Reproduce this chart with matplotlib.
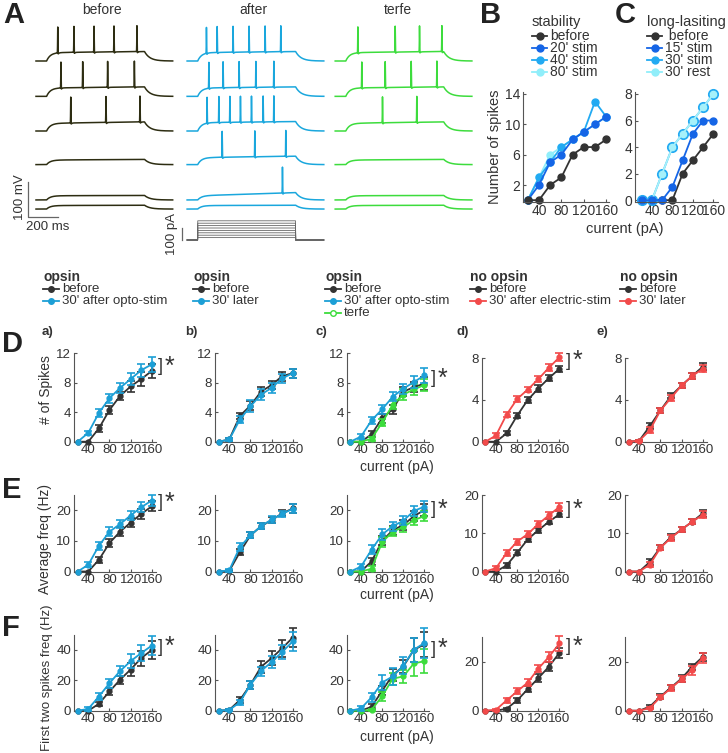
import numpy as np
import matplotlib
matplotlib.use("Agg")
import matplotlib.pyplot as plt
from matplotlib.transforms import blended_transform_factory

plt.rcParams["font.family"] = ["Liberation Sans", "DejaVu Sans"]
plt.rcParams["text.color"] = "#333333"
plt.rcParams["axes.labelcolor"] = "#333333"

# ---------------- panel A: example sweeps (spike times in ms, top sweep first)
STEP_ON, STEP_OFF = 70, 718
spikes_before = [[144, 251, 384, 516, 668], [165, 309, 474, 651], [230, 463, 688], [], [], []]
spikes_after = [[128, 199, 304, 410, 516, 620], [144, 238, 344, 455, 574],
                [132, 210, 283, 353, 426, 503, 574], [232, 448, 653], [631], []]
spikes_terfe = [[150, 397, 558, 706], [176, 331, 503, 673], [313, 540], [], [], []]
depol_before = [24, 24, 22, 13, 12, 10]
depol_after = [24, 24, 24, 20, 12, 10]
depol_terfe = [24, 24, 22, 13, 12, 10]
ramp_before = [3, 3, 4, 2, 1, 1]
ramp_after = [3, 3, 3, 4, 9, 1]
ramp_terfe = [3, 3, 4, 2, 1, 1]
sweep_offset = [0, -101, -200, -296, -397, -423]
step_currents = [20, 40, 60, 80, 100, 120, 140, 160]

# ---------------- panels B, C
current = [20, 40, 60, 80, 100, 120, 140, 160]
stab_before = [0, 0, 2, 3, 6, 7, 7, 8]
stab_20 = [0, 2, 5, 6, 8, 9, 10, 11]
stab_40 = [0, 3, 5, 7, 8, 9, 13, 11]
stab_80 = [0, 3, 6, 7, 8, 9, 10, 11]
long_before = [0, 0, 0, 0, 2, 3, 4, 5]
long_15 = [0, 0, 0, 1, 3, 5, 6, 6]
long_30stim = [0, 0, 2, 4, 5, 6, 7, 8]
long_30rest = [0, 0, 2, 4, 5, 6, 7, 8]

# ---------------- panel D: # of spikes (mean, sem)
spk_a_before = [0, 0, 1.8, 4.3, 6.2, 7.5, 8.5, 9.6]
spk_a_before_sem = [0, 0, 0.5, 0.6, 0.6, 0.8, 0.9, 1.0]
spk_a_after = [0, 1.2, 3.9, 5.9, 7.3, 8.5, 9.7, 10.5]
spk_a_after_sem = [0, 0.3, 0.5, 0.6, 0.7, 0.8, 0.9, 1.0]
spk_b_before = [0, 0.3, 3.5, 4.9, 6.8, 7.7, 8.9, 9.3]
spk_b_before_sem = [0, 0.2, 0.4, 0.6, 0.6, 0.6, 0.6, 0.6]
spk_b_later = [0, 0.3, 3.0, 4.8, 6.4, 7.3, 8.6, 9.3]
spk_b_later_sem = [0, 0.2, 0.5, 0.8, 0.7, 0.7, 0.6, 0.6]
spk_c_before = [0, 0, 1.0, 3.2, 4.4, 6.8, 7.4, 7.9]
spk_c_before_sem = [0, 0, 0.4, 0.6, 0.6, 0.6, 0.7, 0.9]
spk_c_after = [0, 0.7, 2.9, 4.4, 6.1, 7.2, 8.1, 9.0]
spk_c_after_sem = [0, 0.4, 0.5, 0.6, 0.6, 0.7, 0.8, 1.0]
spk_c_terfe = [0, 0, 0.4, 2.6, 5.0, 6.4, 7.1, 7.7]
spk_c_terfe_sem = [0, 0, 0.3, 0.5, 0.6, 0.7, 0.8, 0.8]
spk_d_before = [0, 0, 0.8, 2.5, 4.0, 5.1, 6.1, 7.0]
spk_d_before_sem = [0, 0, 0.2, 0.25, 0.25, 0.3, 0.3, 0.3]
spk_d_after = [0, 0.6, 2.6, 4.1, 5.0, 6.0, 7.1, 8.1]
spk_d_after_sem = [0, 0.2, 0.25, 0.25, 0.25, 0.3, 0.35, 0.4]
spk_e_before = [0, 0.1, 1.5, 3.0, 4.4, 5.4, 6.3, 7.2]
spk_e_before_sem = [0, 0.1, 0.3, 0.25, 0.25, 0.25, 0.3, 0.35]
spk_e_later = [0, 0.1, 1.1, 3.0, 4.2, 5.4, 6.3, 7.0]
spk_e_later_sem = [0, 0.1, 0.3, 0.25, 0.25, 0.25, 0.3, 0.35]

# ---------------- panel E: average frequency (Hz)
frq_a_before = [0, 0, 3.8, 9.3, 13.0, 16.0, 18.8, 21.3]
frq_a_before_sem = [0, 0, 1.0, 1.4, 1.4, 1.4, 1.5, 1.6]
frq_a_after = [0, 2.2, 8.4, 13.0, 15.5, 18.3, 21.0, 23.2]
frq_a_after_sem = [0, 0.8, 1.3, 1.4, 1.4, 1.4, 1.6, 1.8]
frq_b_before = [0, 0.2, 6.3, 11.8, 14.8, 16.8, 19.0, 20.6]
frq_b_before_sem = [0, 0.3, 1.0, 1.0, 1.0, 1.0, 1.0, 1.5]
frq_b_later = [0, 0.4, 8.0, 11.8, 14.8, 17.0, 18.8, 20.5]
frq_b_later_sem = [0, 0.4, 1.3, 1.0, 1.0, 1.0, 1.0, 1.5]
frq_c_before = [0, 0, 3.3, 10.0, 13.5, 15.2, 18.1, 20.1]
frq_c_before_sem = [0, 0, 1.2, 1.5, 1.5, 1.5, 1.6, 1.8]
frq_c_after = [0, 1.6, 7.1, 12.1, 14.8, 16.6, 19.8, 21.2]
frq_c_after_sem = [0, 0.8, 1.5, 1.7, 1.5, 1.5, 1.5, 1.8]
frq_c_terfe = [0, 0, 0.9, 9.6, 13.0, 14.5, 16.8, 18.1]
frq_c_terfe_sem = [0, 0, 0.8, 1.6, 1.5, 1.5, 1.5, 1.7]
frq_d_before = [0, 0, 1.6, 4.9, 8.4, 10.8, 13.0, 15.0]
frq_d_before_sem = [0, 0, 0.6, 0.7, 0.7, 0.7, 0.7, 0.8]
frq_d_after = [0, 0.9, 4.8, 7.8, 9.8, 12.4, 14.7, 16.9]
frq_d_after_sem = [0, 0.5, 0.8, 0.8, 0.8, 0.8, 0.9, 1.0]
frq_e_before = [0, 0, 2.5, 6.3, 9.0, 11.0, 13.0, 15.2]
frq_e_before_sem = [0, 0, 0.8, 0.7, 0.7, 0.7, 0.7, 0.9]
frq_e_later = [0, 0, 1.8, 6.2, 8.8, 11.0, 13.0, 14.8]
frq_e_later_sem = [0, 0, 0.7, 0.7, 0.7, 0.7, 0.7, 0.9]

# ---------------- panel F: first two spikes frequency (Hz)
ft_a_before = [0, 0, 4.5, 12.6, 20.3, 27.0, 34.5, 39.8]
ft_a_before_sem = [0, 0, 1.5, 2.5, 2.5, 4, 5, 6]
ft_a_after = [0, 1.2, 9.3, 18.0, 26.0, 32.5, 37.8, 42.7]
ft_a_after_sem = [0, 1.5, 2.5, 3, 3.5, 4.5, 5, 6]
ft_b_before = [0, 0.5, 7.0, 17.0, 28.8, 34.5, 41.0, 48.0]
ft_b_before_sem = [0, 0.6, 2, 2.5, 4, 4.5, 5.5, 6.5]
ft_b_later = [0, 0.5, 5.5, 17.0, 26.0, 32.0, 38.5, 45.5]
ft_b_later_sem = [0, 0.6, 1.5, 2.5, 3, 4, 4.5, 6]
ft_c_before = [0, 0, 2.6, 13.0, 23.5, 29.0, 40.0, 43.5]
ft_c_before_sem = [0, 0, 1.5, 3, 4, 4.5, 8, 8]
ft_c_after = [0, 1.5, 8.8, 18.5, 22.5, 29.5, 40.0, 44.5]
ft_c_after_sem = [0, 1.5, 3, 5, 5.5, 5.5, 8, 10]
ft_c_terfe = [0, 0, 0.5, 9.5, 21.0, 22.5, 31.0, 32.5]
ft_c_terfe_sem = [0, 0, 0.5, 3, 4, 4, 8, 8]
ft_d_before = [0, 0, 0.8, 4.2, 8.8, 13.3, 18.0, 23.7]
ft_d_before_sem = [0, 0, 0.5, 1, 1.2, 1.5, 1.8, 2]
ft_d_after = [0, 0.4, 4.2, 7.9, 11.5, 17.2, 22.0, 27.5]
ft_d_after_sem = [0, 0.4, 1, 1.2, 1.5, 1.5, 2, 3]
ft_e_before = [0, 0, 1.7, 5.8, 9.5, 13.2, 18.0, 22.0]
ft_e_before_sem = [0, 0, 0.8, 1, 1.2, 1.3, 1.2, 1.5]
ft_e_later = [0, 0, 1.1, 5.6, 9.2, 12.9, 16.5, 21.7]
ft_e_later_sem = [0, 0, 0.6, 1, 1.2, 1.3, 1.8, 2]

# colours
C_TR_BEFORE, C_TR_AFTER, C_TR_TERFE = "#2d2d12", "#1aa7dd", "#3ddc3d"
C_BLACK, C_BLUE, C_GREEN, C_RED = "#333333", "#1c9fd6", "#3cdc3c", "#f24a4a"
C_B1, C_B2, C_B3 = "#1565e6", "#22aaf2", "#90eefa"
SPINE = "#555555"

W, H = 728, 753
fig = plt.figure(figsize=(W / 100, H / 100), dpi=100)

# overlay in pixel coordinates for labels / legends
ov = fig.add_axes([0, 0, 1, 1])
ov.set_xlim(0, W)
ov.set_ylim(H, 0)
ov.axis("off")


def px_axes(left, top, right, bottom):
    ax = fig.add_axes([left / W, 1 - bottom / H, (right - left) / W, (bottom - top) / H])
    ax.set_facecolor("none")
    return ax


def style(ax, fs=9.5):
    for s in ["top", "right"]:
        ax.spines[s].set_visible(False)
    for s in ["left", "bottom"]:
        ax.spines[s].set_color(SPINE)
        ax.spines[s].set_linewidth(0.8)
    ax.tick_params(direction="in", length=2.5, width=0.8, color=SPINE,
                   labelsize=fs, labelcolor="#333333", pad=2)


def key(x, y, color, label, fs=9.5, w=16, mfc=None, ms=4):
    ov.plot([x, x + w], [y, y], color=color, lw=1.3)
    ov.plot([x + w / 2], [y], "o", color=color, ms=ms, mfc=mfc or color, mew=1)
    ov.text(x + w + 3, y, label, va="center", ha="left", fontsize=fs)


# ================= panel A
MS_PER_PX = 900 / 136
MV_PER_PX = 100 / 35
axA = px_axes(0, 0, 485, 255)
axA.set_xlim(-36 * MS_PER_PX, (485 - 36) * MS_PER_PX)
axA.set_ylim((61 - 255) * MV_PER_PX, 61 * MV_PER_PX)
axA.axis("off")

t = np.arange(0, 905, 0.5)


def vm_trace(depol, ramp, spikes):
    v = np.zeros_like(t)
    on = (t >= STEP_ON) & (t < STEP_OFF)
    frac = (t[on] - STEP_ON) / (STEP_OFF - STEP_ON)
    v[on] = depol * (1 - np.exp(-(t[on] - STEP_ON) / 25)) + ramp * frac
    v_end = depol * (1 - np.exp(-(STEP_OFF - STEP_ON) / 25)) + ramp
    off = t >= STEP_OFF
    v[off] = v_end * np.exp(-(t[off] - STEP_OFF) / 35)
    for s in spikes:
        v += 74 * np.exp(-((t - s) / 1.3) ** 2)
        dt = t - s
        v -= np.where(dt > 0, 6 * np.exp(-np.clip(dt, 0, None) / 5), 0)
    return v


groups = [(0, spikes_before, depol_before, ramp_before, C_TR_BEFORE),
          (1000, spikes_after, depol_after, ramp_after, C_TR_AFTER),
          (1980, spikes_terfe, depol_terfe, ramp_terfe, C_TR_TERFE)]
for x0, spk, dep, rmp, col in groups:
    for i in range(6):
        axA.plot(t + x0, vm_trace(dep[i], rmp[i], spk[i]) + sweep_offset[i],
                 color=col, lw=1.1)

PA_UNITS = 0.12 * MV_PER_PX
I_BASE = (61 - 240) * MV_PER_PX
for lvl in step_currents:
    cur = np.where((t >= STEP_ON) & (t < STEP_OFF), lvl, 0)
    axA.plot(t + 1000, I_BASE + cur * PA_UNITS, color="#666666", lw=0.6)

# scale bars
SB_X = -55
SB_Y = (61 - 216.7) * MV_PER_PX
axA.plot([SB_X, SB_X, SB_X + 200], [SB_Y + 100, SB_Y, SB_Y], color="#666666", lw=0.9)
axA.plot([963, 963], [I_BASE, I_BASE + 100 * PA_UNITS], color="#666666", lw=0.9)
ov.text(20, 197, "100 mV", rotation=90, ha="center", va="center", fontsize=9.5)
ov.text(26, 227, "200 ms", ha="left", va="center", fontsize=9.5)
ov.text(172, 234, "100 pA", rotation=90, ha="center", va="center", fontsize=9.5)

ov.text(102, 10, "before", ha="center", va="center", fontsize=10)
ov.text(253, 10, "after", ha="center", va="center", fontsize=10)
ov.text(398, 10, "terfe", ha="center", va="center", fontsize=10)

# ================= panels B, C
axB = px_axes(522.7, 91.7, 609, 201.7)
style(axB, 10)
axB.set_xlim(11, 165)
axB.set_ylim(-0.2, 14.3)
for y, c in [(stab_80, C_B3), (stab_40, C_B2), (stab_20, C_B1), (stab_before, C_BLACK)]:
    axB.plot(current, y, "-o", color=c, ms=5, lw=1.3, clip_on=False)
axB.set_xticks([40, 80, 120, 160])
axB.set_yticks([2, 6, 10, 14])

axC = px_axes(635, 92, 718, 201.5)
style(axC, 10)
axC.set_xlim(7, 169)
axC.set_ylim(-0.1, 8.15)
axC.plot(current, long_before, "-o", color=C_BLACK, ms=5, lw=1.3, clip_on=False)
axC.plot(current, long_30stim, "-o", color=C_B2, ms=7, lw=1.3, clip_on=False)
axC.plot(current, long_30rest, "-o", color="#a6f1fa", ms=4.5, lw=1.3, clip_on=False)
axC.plot(current, long_15, "-o", color=C_B1, ms=5, lw=1.3, clip_on=False)
axC.set_xticks([40, 80, 120, 160])
axC.set_yticks([0, 2, 4, 6, 8])

ov.text(495, 147, "Number of spikes", rotation=90, ha="center", va="center", fontsize=10.5)
ov.text(625, 229, "current (pA)", ha="center", va="center", fontsize=10.5)

ov.text(532, 21.5, "stability", ha="left", va="center", fontsize=10.5)
for yy, c, lab in [(36.3, C_BLACK, "before"), (48, C_B1, "20' stim"),
                   (60, C_B2, "40' stim"), (71.7, C_B3, "80' stim")]:
    key(532, yy, c, lab, fs=10, w=15, ms=5)
ov.text(647, 21.5, "long-lasiting", ha="left", va="center", fontsize=10.5)
for yy, c, lab in [(36.3, C_BLACK, " before"), (48, C_B1, "15' stim"),
                   (60, C_B2, "30' stim"), (71.7, C_B3, "30' rest")]:
    key(647, yy, c, lab, fs=10, w=15, ms=5)

# panel letters
for lx, ly, lab in [(3, 15, "A"), (480, 15, "B"), (615, 15, "C"),
                    (2, 344, "D"), (2, 490, "E"), (2, 628, "F")]:
    ov.text(lx, ly, lab, ha="left", va="center", fontsize=21, fontweight="bold", color="#222222")

# ================= legends row
leg_blocks = [
    (43, "opsin", [(C_BLACK, "before"), (C_BLUE, "30' after opto-stim")]),
    (193, "opsin", [(C_BLACK, "before"), (C_BLUE, "30' later")]),
    (325, "opsin", [(C_BLACK, "before"), (C_BLUE, "30' after opto-stim"), (C_GREEN, "terfe")]),
    (470, "no opsin", [(C_BLACK, "before"), (C_RED, "30' after electric-stim")]),
    (620, "no opsin", [(C_BLACK, "before"), (C_RED, "30' later")]),
]
for bx, title, entries in leg_blocks:
    ov.text(bx, 276.5, title, ha="left", va="center", fontsize=10, fontweight="bold")
    for k, (c, lab) in enumerate(entries):
        key(bx, 289 + 12 * k, c, lab, ms=4, mfc="white" if lab == "terfe" else None)

for sx, lab in [(42, "a)"), (185, "b)"), (315, "c)"), (456.7, "d)"), (596.7, "e)")]:
    ov.text(sx, 331.7, lab, ha="left", va="center", fontsize=9.5, fontweight="bold")

# ================= panels D, E, F
col_left = [74, 215, 346.7, 481.7, 625]
rows = [
    # (bottom px, top px a-c, top px d-e, ymax a-c, ymax d-e, yticks a-c, yticks d-e)
    (441.7, 353.3, 358.3, 12, 8, [0, 4, 8, 12], [0, 4, 8]),
    (571.5, 495, 495, 25, 20, [0, 10, 20], [0, 10, 20]),
    (710.7, 634.5, 637.3, 50, 30, [0, 20, 40], [0, 20]),
]
panel_series = [
    [  # D
        [(spk_a_before, spk_a_before_sem, C_BLACK), (spk_a_after, spk_a_after_sem, C_BLUE)],
        [(spk_b_before, spk_b_before_sem, C_BLACK), (spk_b_later, spk_b_later_sem, C_BLUE)],
        [(spk_c_before, spk_c_before_sem, C_BLACK), (spk_c_terfe, spk_c_terfe_sem, C_GREEN),
         (spk_c_after, spk_c_after_sem, C_BLUE)],
        [(spk_d_before, spk_d_before_sem, C_BLACK), (spk_d_after, spk_d_after_sem, C_RED)],
        [(spk_e_before, spk_e_before_sem, C_BLACK), (spk_e_later, spk_e_later_sem, C_RED)],
    ],
    [  # E
        [(frq_a_before, frq_a_before_sem, C_BLACK), (frq_a_after, frq_a_after_sem, C_BLUE)],
        [(frq_b_before, frq_b_before_sem, C_BLACK), (frq_b_later, frq_b_later_sem, C_BLUE)],
        [(frq_c_before, frq_c_before_sem, C_BLACK), (frq_c_terfe, frq_c_terfe_sem, C_GREEN),
         (frq_c_after, frq_c_after_sem, C_BLUE)],
        [(frq_d_before, frq_d_before_sem, C_BLACK), (frq_d_after, frq_d_after_sem, C_RED)],
        [(frq_e_before, frq_e_before_sem, C_BLACK), (frq_e_later, frq_e_later_sem, C_RED)],
    ],
    [  # F
        [(ft_a_before, ft_a_before_sem, C_BLACK), (ft_a_after, ft_a_after_sem, C_BLUE)],
        [(ft_b_before, ft_b_before_sem, C_BLACK), (ft_b_later, ft_b_later_sem, C_BLUE)],
        [(ft_c_before, ft_c_before_sem, C_BLACK), (ft_c_terfe, ft_c_terfe_sem, C_GREEN),
         (ft_c_after, ft_c_after_sem, C_BLUE)],
        [(ft_d_before, ft_d_before_sem, C_BLACK), (ft_d_after, ft_d_after_sem, C_RED)],
        [(ft_e_before, ft_e_before_sem, C_BLACK), (ft_e_later, ft_e_later_sem, C_RED)],
    ],
]
significant = [0, 2, 3]  # columns with "]*"

x = np.array(current)
for r, (bot, top_ac, top_de, ymax_ac, ymax_de, yt_ac, yt_de) in enumerate(rows):
    for c in range(5):
        top = top_ac if c < 3 else top_de
        ax = px_axes(col_left[c], top, col_left[c] + 82, bot)
        style(ax, 9.5)
        ax.set_xlim(13, 168)
        ax.set_ylim(0, ymax_ac if c < 3 else ymax_de)
        ax.set_xticks([40, 80, 120, 160])
        ax.set_yticks(yt_ac if c < 3 else yt_de)
        for mean, sem, col in panel_series[r][c]:
            mean = np.array(mean)
            sem = np.array(sem)
            ax.plot(x, mean, "-o", color=col, ms=3.5, lw=1.3, clip_on=False, zorder=3)
            m = sem > 0
            ax.errorbar(x[m], mean[m], yerr=sem[m], fmt="none", ecolor=col,
                        elinewidth=1.2, capsize=2.6, capthick=1.2, clip_on=False, zorder=3)
        if c in significant:
            ends = [s[0][-1] for s in panel_series[r][c]]
            yb = 0.65 * max(ends) + 0.35 * min(ends)
            tr = blended_transform_factory(ax.transAxes, ax.transData)
            ax.text(1.02, yb, "]", transform=tr, ha="left", va="center", fontsize=13, color="#333333")
            ax.text(1.11, yb, "*", transform=tr, ha="left", va="center", fontsize=18, color="#333333")

ov.text(46, 390, "# of Spikes", rotation=90, ha="center", va="center", fontsize=10)
ov.text(45, 539, "Average freq (Hz)", rotation=90, ha="center", va="center", fontsize=10)
ov.text(47, 678, "First two spikes freq (Hz)", rotation=90, ha="center", va="center", fontsize=9.5)
for cy in [466.7, 595, 736.7]:
    ov.text(397, cy, "current (pA)", ha="center", va="center", fontsize=10)

fig.savefig("out.png", dpi=100)
